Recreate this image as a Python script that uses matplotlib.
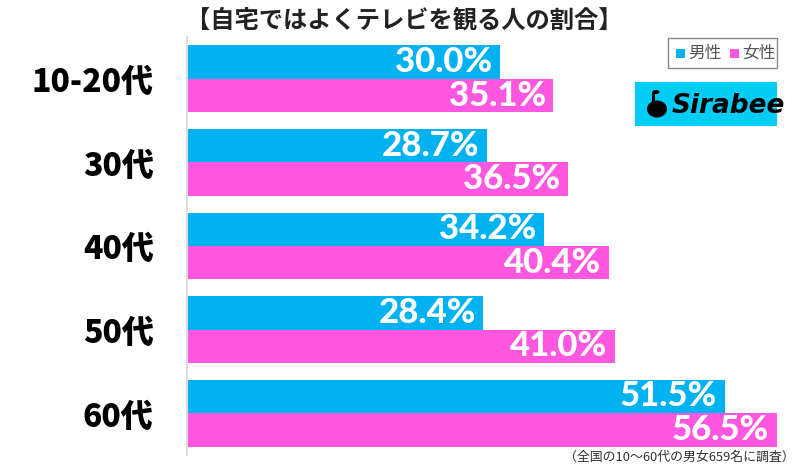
import matplotlib
matplotlib.use("Agg")
import matplotlib.pyplot as plt
from matplotlib.patches import Rectangle, Circle, Ellipse
import numpy as np

plt.rcParams['font.family'] = ['Noto Sans CJK JP', 'DejaVu Sans']

title = "【自宅ではよくテレビを観る人の割合】"
categories = ["10-20代", "30代", "40代", "50代", "60代"]
series_names = ["男性", "女性"]
male = [30.0, 28.7, 34.2, 28.4, 51.5]
female = [35.1, 36.5, 40.4, 41.0, 56.5]
footnote = "（全国の10〜60代の男女659名に調査）"

c_male = "#00B2F0"
c_female = "#FF57E0"

fig = plt.figure(figsize=(8, 4.66), dpi=100)
ax = fig.add_axes([187/800, 1-455/466, 1-187/800, (455-37)/466])

y = np.arange(len(categories))
h = 0.4
ax.barh(y - h/2, male, height=h, color=c_male, linewidth=0)
ax.barh(y + h/2, female, height=h, color=c_female, linewidth=0)

ax.set_xlim(0, 613/10.437)
ax.set_ylim(len(categories) - 0.5, -0.5)

lab_font = ["Lato", "DejaVu Sans"]
for yi, v in zip(y, male):
    ax.annotate(f"{v:.1f}%", (v, yi - h/2), xytext=(-5.5, 0), textcoords="offset points",
                ha="right", va="center", color="white", fontsize=25, fontweight="black",
                family=lab_font)
for yi, v in zip(y, female):
    ax.annotate(f"{v:.1f}%", (v, yi + h/2), xytext=(-5.5, 0), textcoords="offset points",
                ha="right", va="center", color="white", fontsize=25, fontweight="black",
                family=lab_font)

ax.set_yticks(y)
ax.set_yticklabels(categories, fontsize=23, fontweight="black")
ax.tick_params(axis="y", length=0, pad=24)
ax.set_xticks([])
for s in ["top", "right", "bottom"]:
    ax.spines[s].set_visible(False)
ax.spines["left"].set_color("#dddddd")
ax.spines["left"].set_linewidth(1.5)

fig.text(404/800, 1-20/466, title, ha="center", va="center", fontsize=17.5, fontweight="bold", color="#222222")

# legend box
lx0, ly0, lx1, ly1 = 668, 38, 777, 68
fig.patches.append(Rectangle((lx0/800, 1-ly1/466), (lx1-lx0)/800, (ly1-ly0)/466,
                             transform=fig.transFigure, facecolor="white", edgecolor="#888888", linewidth=1))
for i, (name, col) in enumerate(zip(series_names, [c_male, c_female])):
    sx = 676 + i*54
    fig.patches.append(Rectangle((sx/800, 1-58/466), 9/800, 9/466, transform=fig.transFigure,
                                 facecolor=col, edgecolor="none"))
    fig.text((sx+12)/800, 1-53/466, name, ha="left", va="center", fontsize=12, color="#555555")

# logo
fig.patches.append(Rectangle((635/800, 1-126/466), 142/800, 44/466, transform=fig.transFigure,
                             facecolor="#00CCF5", edgecolor="none"))
fig.patches.append(Ellipse((657/800, 1-109/466), 20/800, 17/466, transform=fig.transFigure,
                           facecolor="black", edgecolor="none"))
fig.patches.append(Circle((656/800, 1-92/466), 3.5/800, transform=fig.transFigure,
                          facecolor="black", edgecolor="none"))
fig.patches.append(Rectangle((651.5/800, 1-104/466), 3.5/800, 12/466, transform=fig.transFigure,
                             facecolor="black", edgecolor="none"))
fig.text(672/800, 1-106/466, "Sirabee", ha="left", va="center", fontsize=19, fontweight="bold",
         fontstyle="italic", color="black", family=["DejaVu Sans"])

fig.text(795/800, 1-457/466, footnote, ha="right", va="center", fontsize=9.3, color="#333333")

fig.savefig("out.png", dpi=100)
